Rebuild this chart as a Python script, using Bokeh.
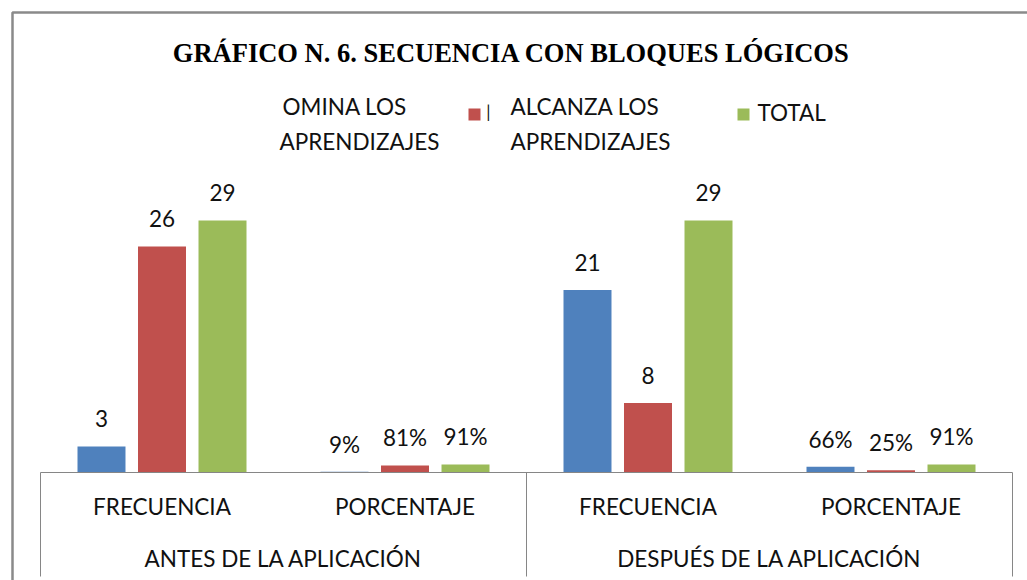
from bokeh.plotting import figure
from bokeh.models import Range1d
from bokeh.core.properties import value
from bokeh.embed import file_html
from bokeh.resources import INLINE

# ---- data ----
groups = ["ANTES DE LA APLICACIÓN", "DESPUÉS DE LA APLICACIÓN"]
measures = ["FRECUENCIA", "PORCENTAJE"]
series_names = ["DOMINA LOS APRENDIZAJES", "NO ALCANZA LOS APRENDIZAJES", "TOTAL"]
domina = [3, 0.09, 21, 0.66]
no_alcanza = [26, 0.81, 8, 0.25]
total = [29, 0.91, 29, 0.91]
title_text = "GRÁFICO N. 6. SECUENCIA CON BLOQUES LÓGICOS"
colors = ["#4F81BD", "#C0504D", "#9BBB59"]

# ---- layout helpers (page pixel -> data) ----
X0, CW, Y0, PU = 40.0, 243.0, 472.0, 8.69
def dx(px):
    return (px - X0) / CW
def dy(py):
    return (Y0 - py) / PU

FS_N = 22.5
FS_T = 26.5
def base(py, fs):
    # place an alphabetic baseline at page y = py
    return dy(py - 0.43 * fs)

W, H = 1027, 580
p = figure(width=W, height=H, output_backend="svg", toolbar_location=None,
           x_axis_type=None, y_axis_type=None,
           x_range=Range1d(dx(0), dx(W)), y_range=Range1d(dy(H), dy(0)))
p.min_border = 0
p.min_border_left = 0
p.min_border_right = 0
p.min_border_top = 0
p.min_border_bottom = 0
p.outline_line_color = None
p.grid.visible = False
p.background_fill_color = "white"
p.border_fill_color = "white"

FONT = value("Lato")
TXT = "#111111"
FS = f"{FS_N}px"

# outer chart border (left and top visible)
p.line(x=[dx(12), dx(12), dx(1040)], y=[dy(600), dy(12), dy(12)],
       line_color="#8a8a8a", line_width=2.5)

# bars
n_cat = len(groups) * len(measures)
centers = [i + 0.5 for i in range(n_cat)]
offsets = [-0.249, 0.0, 0.249]
all_series = [domina, no_alcanza, total]
for s, vals in enumerate(all_series):
    xs = [c + offsets[s] for c in centers]
    p.vbar(x=xs, top=vals, bottom=0, width=0.1975, fill_color=colors[s], line_color=None)
    labs = []
    for i, v in enumerate(vals):
        if i % 2 == 0:
            labs.append(str(int(v)))
        else:
            labs.append(f"{round(v * 100)}%")
    p.text(x=xs, y=vals, text=labs, text_align="center", text_baseline="alphabetic",
           y_offset=-(18 + 0.43 * FS_N), text_font=FONT, text_font_size=FS, text_color=TXT)

# category axis (table style)
p.line(x=[0, n_cat], y=[0, 0], line_color="#868686", line_width=1)
seps = [0, 2, 4]
p.segment(x0=seps, y0=[0] * 3, x1=seps, y1=[dy(576)] * 3, line_color="#868686", line_width=1)
cat_labels = [measures[i % 2] for i in range(n_cat)]
p.text(x=centers, y=[base(516, FS_N)] * n_cat, text=cat_labels, text_align="center",
       text_baseline="alphabetic", text_font=FONT, text_font_size=FS, text_color=TXT)
p.text(x=[1, 3], y=[base(568, FS_N)] * 2, text=groups, text_align="center",
       text_baseline="alphabetic", text_font=FONT, text_font_size=FS, text_color=TXT)

# title
p.text(x=[dx(511)], y=[base(64, FS_T)], text=[title_text], text_align="center",
       text_baseline="alphabetic", text_font=value("Liberation Serif"),
       text_font_style="bold", text_font_size=f"{FS_T}px", text_color="black")

# legend (as rendered in the reference)
p.text(x=[dx(282), dx(279)], y=[base(116, FS_N), base(151, FS_N)],
       text=["OMINA LOS", "APRENDIZAJES"],
       text_align="left", text_baseline="alphabetic", text_font=FONT,
       text_font_size=FS, text_color=TXT)
p.scatter(x=[dx(474)], y=[dy(114)], marker="square", size=12, fill_color=colors[1], line_color=None)
p.text(x=[dx(488)], y=[base(118, 17)], text=["|"], text_align="center", text_baseline="alphabetic",
       text_font=FONT, text_font_size="17px", text_color=TXT)
p.text(x=[dx(510), dx(510)], y=[base(116, FS_N), base(151, FS_N)],
       text=["ALCANZA LOS", "APRENDIZAJES"],
       text_align="left", text_baseline="alphabetic", text_font=FONT,
       text_font_size=FS, text_color=TXT)
p.scatter(x=[dx(743)], y=[dy(114)], marker="square", size=12, fill_color=colors[2], line_color=None)
p.text(x=[dx(757)], y=[base(122, FS_N)], text=["TOTAL"], text_align="left", text_baseline="alphabetic",
       text_font=FONT, text_font_size=FS, text_color=TXT)

open("out.html", "w").write(file_html(p, INLINE))
